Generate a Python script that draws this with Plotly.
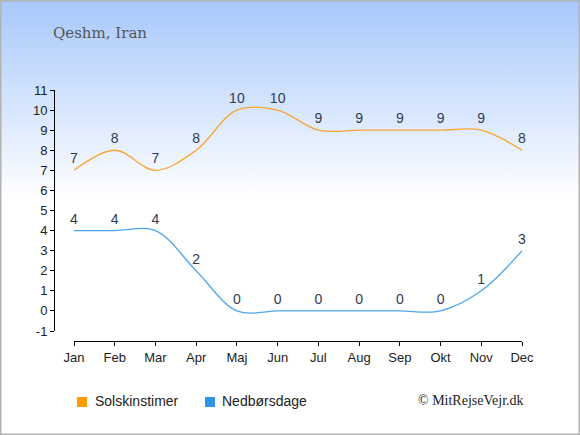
import plotly.graph_objects as go

months = ["Jan", "Feb", "Mar", "Apr", "Maj", "Jun", "Jul", "Aug", "Sep", "Okt", "Nov", "Dec"]
sun_hours = [7, 8, 7, 8, 10, 10, 9, 9, 9, 9, 9, 8]
rain_days = [4, 4, 4, 2, 0, 0, 0, 0, 0, 0, 1, 3]
series_names = ["Solskinstimer", "Nedbørsdage"]
title_text = "Qeshm, Iran"
credit_text = "© MitRejseVejr.dk"
y_ticks = list(range(-1, 12))
y_tick_labels = [str(v) for v in y_ticks]

W, H = 580, 435
line_colors = ["#f8a531", "#4ea6ee"]
legend_colors = ["#ff9a00", "#2f93e8"]
label_color = "#2f3b55"

fig = go.Figure()
for vals, col in [(sun_hours, line_colors[0]), (rain_days, line_colors[1])]:
    fig.add_trace(go.Scatter(
        x=months, y=vals, mode="lines",
        line=dict(color=col, width=1.3, shape="spline", smoothing=1.0),
        showlegend=False, hoverinfo="skip"))
    fig.add_trace(go.Scatter(
        x=months, y=vals, mode="markers+text", text=[str(v) for v in vals],
        textposition="top center", cliponaxis=False,
        marker=dict(size=4, color="rgba(0,0,0,0)"),
        textfont=dict(family="Liberation Sans", size=14, color=label_color),
        showlegend=False, hoverinfo="skip"))

svg = ("data:image/svg+xml;utf8,<svg xmlns='http://www.w3.org/2000/svg' width='580' height='435' "
       "preserveAspectRatio='none'><defs><linearGradient id='g' x1='0' y1='0' x2='0' y2='1'>"
       "<stop offset='0' stop-color='%23a7c8fb'/><stop offset='0.46' stop-color='%23ffffff'/>"
       "<stop offset='1' stop-color='%23ffffff'/></linearGradient></defs>"
       "<rect width='580' height='435' fill='url(%23g)'/></svg>")

shapes = [dict(type="rect", xref="paper", yref="paper", x0=0, y0=0, x1=1, y1=1,
               line=dict(color="#b3b3b3", width=3), fillcolor="rgba(0,0,0,0)", layer="above")]
annotations = [
    dict(text=title_text, xref="paper", yref="paper", x=51 / W, y=1 - 33 / H,
         xanchor="left", yanchor="middle", showarrow=False,
         font=dict(family="DejaVu Serif", size=15, color="#555555")),
    dict(text=credit_text, xref="paper", yref="paper", x=526 / W, y=1 - 400 / H,
         xanchor="right", yanchor="middle", showarrow=False,
         font=dict(family="Liberation Serif", size=14, color="#222222")),
]
leg_x = [(77, 93), (205, 220)]
for (sx, tx), name, col in zip(leg_x, series_names, legend_colors):
    shapes.append(dict(type="rect", xref="paper", yref="paper",
                       x0=sx / W, x1=(sx + 10) / W, y0=1 - 407 / H, y1=1 - 397 / H,
                       line=dict(width=0), fillcolor=col))
    annotations.append(dict(text=name, xref="paper", yref="paper", x=tx / W, y=1 - 401 / H,
                            xanchor="left", yanchor="middle", showarrow=False,
                            font=dict(family="Liberation Sans", size=14, color="#222222")))

fig.update_layout(
    width=W, height=H, margin=dict(l=0, r=0, t=0, b=0, pad=0, autoexpand=False),
    paper_bgcolor="rgba(0,0,0,0)", plot_bgcolor="rgba(0,0,0,0)",
    images=[dict(source=svg, xref="paper", yref="paper", x=0, y=1, sizex=1, sizey=1,
                 sizing="stretch", layer="below", xanchor="left", yanchor="top")],
    shapes=shapes, annotations=annotations,
    xaxis=dict(domain=[74 / W, 522 / W], range=[0, 11], type="category",
               anchor="free", position=(H - 341) / H, automargin=False,
               showline=True, linecolor="#000000", linewidth=1,
               ticks="outside", ticklen=4, tickcolor="#000000", showgrid=False, zeroline=False,
               tickfont=dict(family="Liberation Sans", size=13, color="#222222")),
    yaxis=dict(domain=[(H - 331) / H, (H - 90) / H], range=[-1, 11],
               anchor="free", position=54 / W, tickvals=y_ticks, ticktext=y_tick_labels,
               automargin=False,
               showline=True, linecolor="#000000", linewidth=1,
               ticks="outside", ticklen=4, tickcolor="#000000", showgrid=False, zeroline=False,
               tickfont=dict(family="Liberation Sans", size=13, color="#222222")),
)
fig.write_html("out.html", config={"displayModeBar": False},
               post_script="document.body.style.margin='0';document.body.style.overflow='hidden';")
